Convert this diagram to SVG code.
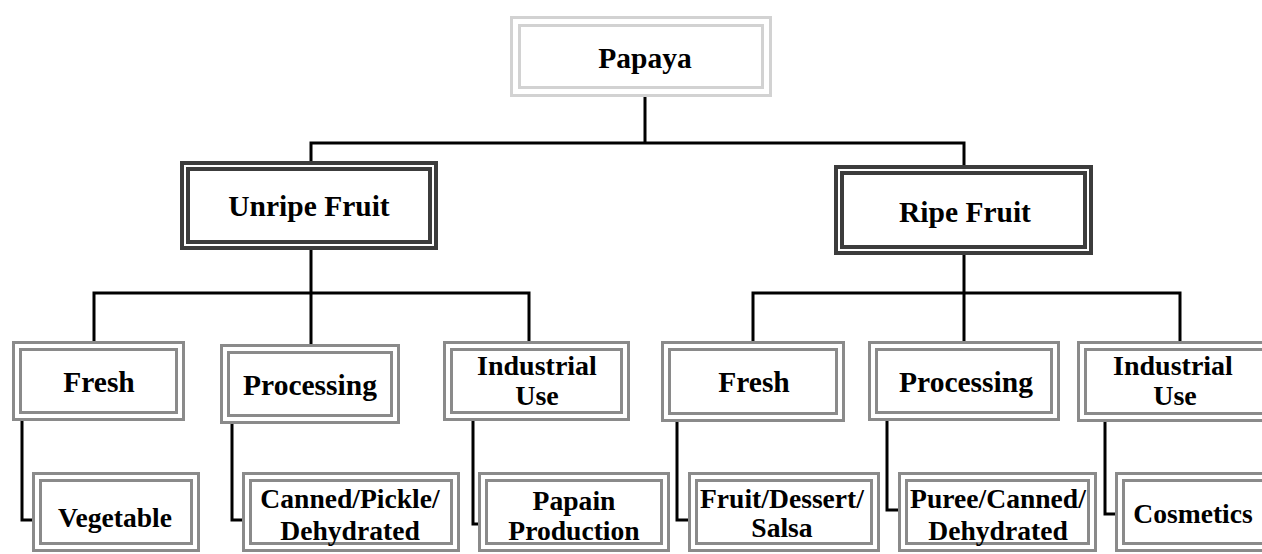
<svg xmlns="http://www.w3.org/2000/svg" width="1262" height="554" viewBox="0 0 1262 554">
<style>
.top{fill:#fff;stroke:#d2d2d2;stroke-width:3}
.l1{fill:#fff;stroke:#3c3c3c;stroke-width:4}
.l2{fill:#fff;stroke:#8a8a8a;stroke-width:3}
.conn{fill:none;stroke:#000;stroke-width:3}
text{font-family:"Liberation Serif","Times New Roman",serif;font-weight:bold;text-anchor:middle;fill:#000}
.t1{font-size:29.5px}
.t2{font-size:28px}
.t3{font-size:27.6px}
</style>
<rect width="1262" height="554" fill="#fff"/>
<g id="connectors">
<path class="conn" d="M645 97V143M311 163V143H964V167"/>
<path class="conn" d="M311 250V293M94 343V293H529V343M311 293V346"/>
<path class="conn" d="M964 255V293M753 343V293H1180V343M964 293V343"/>
<path class="conn" d="M22 418V520H36M232 422V520H246M473 418V524H483M677 418V520H689M887 418V510H899M1105 418V514H1117"/>
</g>
<g id="papaya">
<rect class="top" x="511.5" y="17.5" width="259" height="78"/>
<rect class="top" x="519.5" y="25.5" width="243" height="62"/>
<text class="t1" x="645" y="68">Papaya</text>
</g>
<g id="unripe">
<rect class="l1" x="182" y="163" width="254" height="85"/>
<rect class="l1" x="188" y="169" width="242" height="73"/>
<text class="t1" x="309" y="216">Unripe Fruit</text>
</g>
<g id="ripe">
<rect class="l1" x="836" y="167" width="255" height="86"/>
<rect class="l1" x="842" y="173" width="243" height="74"/>
<text class="t1" x="965" y="222">Ripe Fruit</text>
</g>
<g id="fresh-unripe">
<rect class="l2" x="13.5" y="342.5" width="170" height="77"/>
<rect class="l2" x="20.5" y="349.5" width="156" height="63"/>
<text class="t1" x="99" y="392">Fresh</text>
</g>
<g id="processing-unripe">
<rect class="l2" x="221.5" y="345.5" width="177" height="77"/>
<rect class="l2" x="228.5" y="352.5" width="163" height="63"/>
<text class="t1" x="310" y="395">Processing</text>
</g>
<g id="industrial-unripe">
<rect class="l2" x="444.5" y="342.5" width="184" height="77"/>
<rect class="l2" x="451.5" y="349.5" width="170" height="63"/>
<text class="t2" x="537" y="375">Industrial</text>
<text class="t2" x="537" y="404.5">Use</text>
</g>
<g id="fresh-ripe">
<rect class="l2" x="662.5" y="342.5" width="181" height="78"/>
<rect class="l2" x="669.5" y="349.5" width="167" height="64"/>
<text class="t1" x="754" y="392">Fresh</text>
</g>
<g id="processing-ripe">
<rect class="l2" x="869.5" y="342.5" width="189" height="77"/>
<rect class="l2" x="876.5" y="349.5" width="175" height="63"/>
<text class="t1" x="966" y="392">Processing</text>
</g>
<g id="industrial-ripe">
<rect class="l2" x="1078.5" y="342.5" width="200" height="78"/>
<rect class="l2" x="1085.5" y="349.5" width="186" height="64"/>
<text class="t2" x="1173" y="375">Industrial</text>
<text class="t2" x="1175" y="404.5">Use</text>
</g>
<g id="vegetable">
<rect class="l2" x="33.5" y="473.5" width="165" height="77"/>
<rect class="l2" x="40.5" y="480.5" width="151" height="63"/>
<text class="t3" x="115" y="527">Vegetable</text>
</g>
<g id="canned-pickle">
<rect class="l2" x="243.5" y="473.5" width="215" height="77"/>
<rect class="l2" x="250.5" y="480.5" width="201" height="63"/>
<text class="t3" x="350" y="508">Canned/Pickle/</text>
<text class="t3" x="350" y="540">Dehydrated</text>
</g>
<g id="papain">
<rect class="l2" x="479.5" y="473.5" width="189" height="77"/>
<rect class="l2" x="486.5" y="480.5" width="175" height="63"/>
<text class="t3" x="574" y="510">Papain</text>
<text class="t3" x="574" y="540">Production</text>
</g>
<g id="fruit-dessert">
<rect class="l2" x="689.5" y="473.5" width="189" height="77"/>
<rect class="l2" x="696.5" y="480.5" width="175" height="63"/>
<text class="t3" x="782" y="508">Fruit/Dessert/</text>
<text class="t3" x="782" y="537">Salsa</text>
</g>
<g id="puree">
<rect class="l2" x="899.5" y="473.5" width="196" height="77"/>
<rect class="l2" x="906.5" y="480.5" width="182" height="63"/>
<text class="t3" x="998" y="508">Puree/Canned/</text>
<text class="t3" x="998" y="540">Dehydrated</text>
</g>
<g id="cosmetics">
<rect class="l2" x="1116.5" y="473.5" width="160" height="77"/>
<rect class="l2" x="1123.5" y="480.5" width="146" height="63"/>
<text class="t3" x="1193" y="523">Cosmetics</text>
</g>
</svg>
